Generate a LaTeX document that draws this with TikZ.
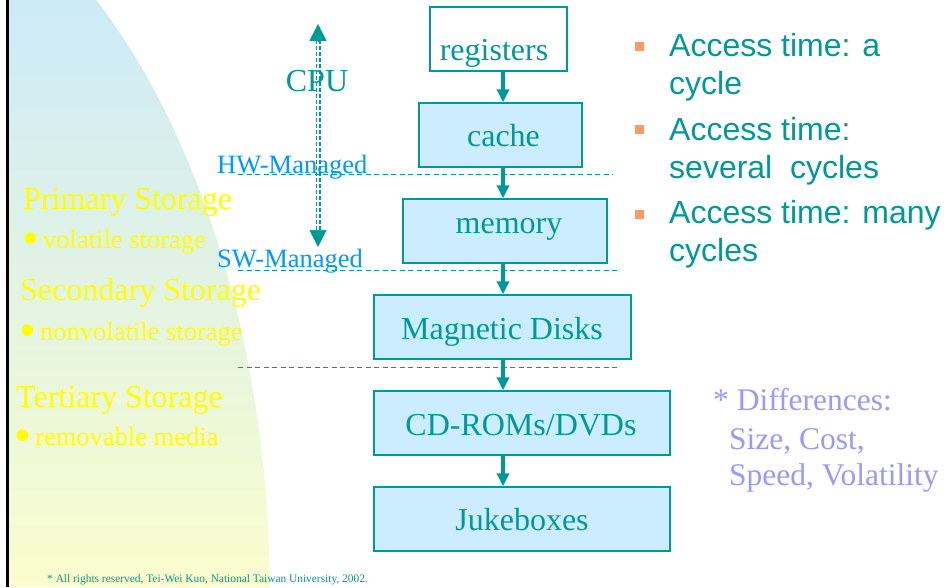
\documentclass[tikz,border=0pt]{standalone}
\usepackage{fontspec}
\setmainfont{Liberation Serif}
\newfontfamily\bulletsans{Liberation Sans}
\usetikzlibrary{arrows.meta}

\definecolor{tealc}{RGB}{0,153,153}
\definecolor{boxfill}{RGB}{204,236,255}
\definecolor{mgmtblue}{RGB}{0,153,255}
\definecolor{storeyellow}{RGB}{255,255,0}
\definecolor{sqorange}{RGB}{255,153,102}
\definecolor{diffblue}{RGB}{153,153,255}
\definecolor{bgtop}{RGB}{205,234,248}
\definecolor{bgmid}{RGB}{227,243,226}
\definecolor{bgbot}{RGB}{250,253,205}

\tikzset{
  tier/.style={draw=tealc, line width=1.4pt, fill=boxfill, inner sep=0pt},
  tiertext/.style={anchor=base, text=tealc, inner sep=0pt, font=\fontsize{32}{38}\selectfont},
  flow/.style={draw=tealc, line width=3.3pt, -{Triangle[length=13pt,width=12pt]}},
  level/.style={draw=tealc, line width=1.3pt, dash pattern=on 5pt off 3.5pt},
  cpushaft/.style={draw=tealc, line width=1.3pt, dash pattern=on 4pt off 2pt},
  cputip/.style={draw=tealc, fill=tealc, line width=0.5pt, -{Triangle[length=17pt,width=17pt]}},
  storehead/.style={anchor=base west, text=storeyellow, inner sep=0pt, font=\fontsize{32}{38}\selectfont},
  storeitem/.style={anchor=base west, text=storeyellow, inner sep=0pt, font=\fontsize{26.5}{32}\selectfont},
  storedot/.style={anchor=base west, text=storeyellow, inner sep=0pt, font=\fontsize{48}{54}\selectfont},
  mgmt/.style={anchor=base west, text=mgmtblue, inner sep=0pt, font=\fontsize{26.5}{32}\selectfont},
  accline/.style={anchor=base west, text=tealc, inner sep=0pt, font=\bulletsans\fontsize{32}{38}\selectfont},
  sqmark/.style={fill=sqorange, inner sep=0pt, minimum size=9pt},
  diffline/.style={anchor=base west, text=diffblue, inner sep=0pt, font=\fontsize{31.5}{37}\selectfont},
}

\begin{document}
\begin{tikzpicture}[x=1pt,y=-1pt]
\useasboundingbox (0,0) rectangle (950,587);

% curved shaded panel on the left
\shade[top color=bgtop, middle color=bgmid, bottom color=bgbot]
  (8,0) -- (96,0) .. controls (190,120) and (268,330) .. (270,587) -- (8,587) -- cycle;
\draw[line width=3pt] (7.5,0) -- (7.5,587);

% level separators
\coordinate (hwL) at (238,174.3);  \coordinate (hwR) at (613,174.3);
\coordinate (swL) at (238,270.7);  \coordinate (swR) at (620,270.7);
\coordinate (rmL) at (238,367.3);  \coordinate (rmR) at (620,367.3);
\draw[level] (hwL) -- (hwR);
\draw[level] (swL) -- (swR);
\draw[level] (rmL) -- (rmR);

% storage hierarchy
\node[tier, fill=white, minimum width=137pt, minimum height=64pt] (reg) at (498.5,39) {};
\node[tier, minimum width=163pt, minimum height=64pt] (cache) at (500.5,135) {};
\node[tier, minimum width=204pt, minimum height=64pt] (mem) at (505,231) {};
\node[tier, minimum width=257pt, minimum height=64pt] (disk) at (502.5,327) {};
\node[tier, minimum width=296pt, minimum height=64pt] (cd) at (522,423) {};
\node[tier, minimum width=296pt, minimum height=64pt] (juke) at (522,519) {};

\node[tiertext] (regtext) at (494,60) {registers};
\node[tiertext] (cachetext) at (503.5,146.7) {cache};
\node[tiertext] (memtext) at (509,233.3) {memory};
\node[tiertext] (disktext) at (502,339.3) {Magnetic Disks};
\node[tiertext] (cdtext) at (521,435) {CD-ROMs/DVDs};
\node[tiertext] (juketext) at (522,530) {Jukeboxes};

\coordinate (ax) at (503,0);
\draw[flow] (reg.south -| ax) -- (cache.north -| ax);
\draw[flow] (cache.south -| ax) -- (mem.north -| ax);
\draw[flow] (mem.south -| ax) -- (disk.north -| ax);
\draw[flow] (disk.south -| ax) -- (cd.north -| ax);
\draw[flow] (cd.south -| ax) -- (juke.north -| ax);

% management labels and CPU range
\node[mgmt] (hw) at (217,173) {HW-Managed};
\node[mgmt] (sw) at (217,267) {SW-Managed};
\node[tiertext] (cpu) at (317,91) {CPU};
\coordinate (cpuTop) at (318,24);
\coordinate (cpuBot) at (318,247);
\draw[cpushaft, shorten <=16pt, shorten >=16pt] ([xshift=-1.85pt]cpuTop) -- ([xshift=-1.85pt]cpuBot);
\draw[cpushaft, shorten <=16pt, shorten >=16pt] ([xshift=1.85pt]cpuTop) -- ([xshift=1.85pt]cpuBot);
\draw[cputip] ([yshift=-17pt]cpuTop) -- (cpuTop);
\draw[cputip] ([yshift=17pt]cpuBot) -- (cpuBot);

% storage classes
\node[storehead] (prim) at (23,209) {Primary Storage};
\node[storedot] (primdot) at (22.5,254) {•};
\node[storeitem] (primitem) at (43,248) {volatile storage};
\node[storehead] (sec) at (20,300) {Secondary Storage};
\node[storedot] (secdot) at (19.5,346) {•};
\node[storeitem] (secitem) at (40,340) {nonvolatile storage};
\node[storehead] (ter) at (16,407) {Tertiary Storage};
\node[storedot] (terdot) at (14.5,451) {•};
\node[storeitem] (teritem) at (35,445) {removable media};

% access times
\node[sqmark] (sq1) at (639.5,46.5) {};
\node[sqmark] (sq2) at (639.5,129.5) {};
\node[sqmark] (sq3) at (639.5,214.5) {};
\node[accline] (acc1a) at (669,56.7) {Access time: a};
\node[accline] (acc1b) at (669,94) {cycle};
\node[accline] (acc2a) at (669,140) {Access time:};
\node[accline] (acc2b) at (669,178) {several~ cycles};
\node[accline] (acc3a) at (669,223) {Access time: many};
\node[accline] (acc3b) at (669,261) {cycles};

% differences note
\node[diffline] (diff1) at (713,410) {* Differences:};
\node[diffline] (diff2) at (729,449) {Size, Cost,};
\node[diffline] (diff3) at (729,485) {Speed, Volatility};

% footer
\node[anchor=base west, text=tealc, inner sep=0pt, font=\fontsize{11.4}{13}\selectfont] (foot) at (47,582)
  {* All rights reserved, Tei-Wei Kuo, National Taiwan University, 2002.};
\end{tikzpicture}
\end{document}
